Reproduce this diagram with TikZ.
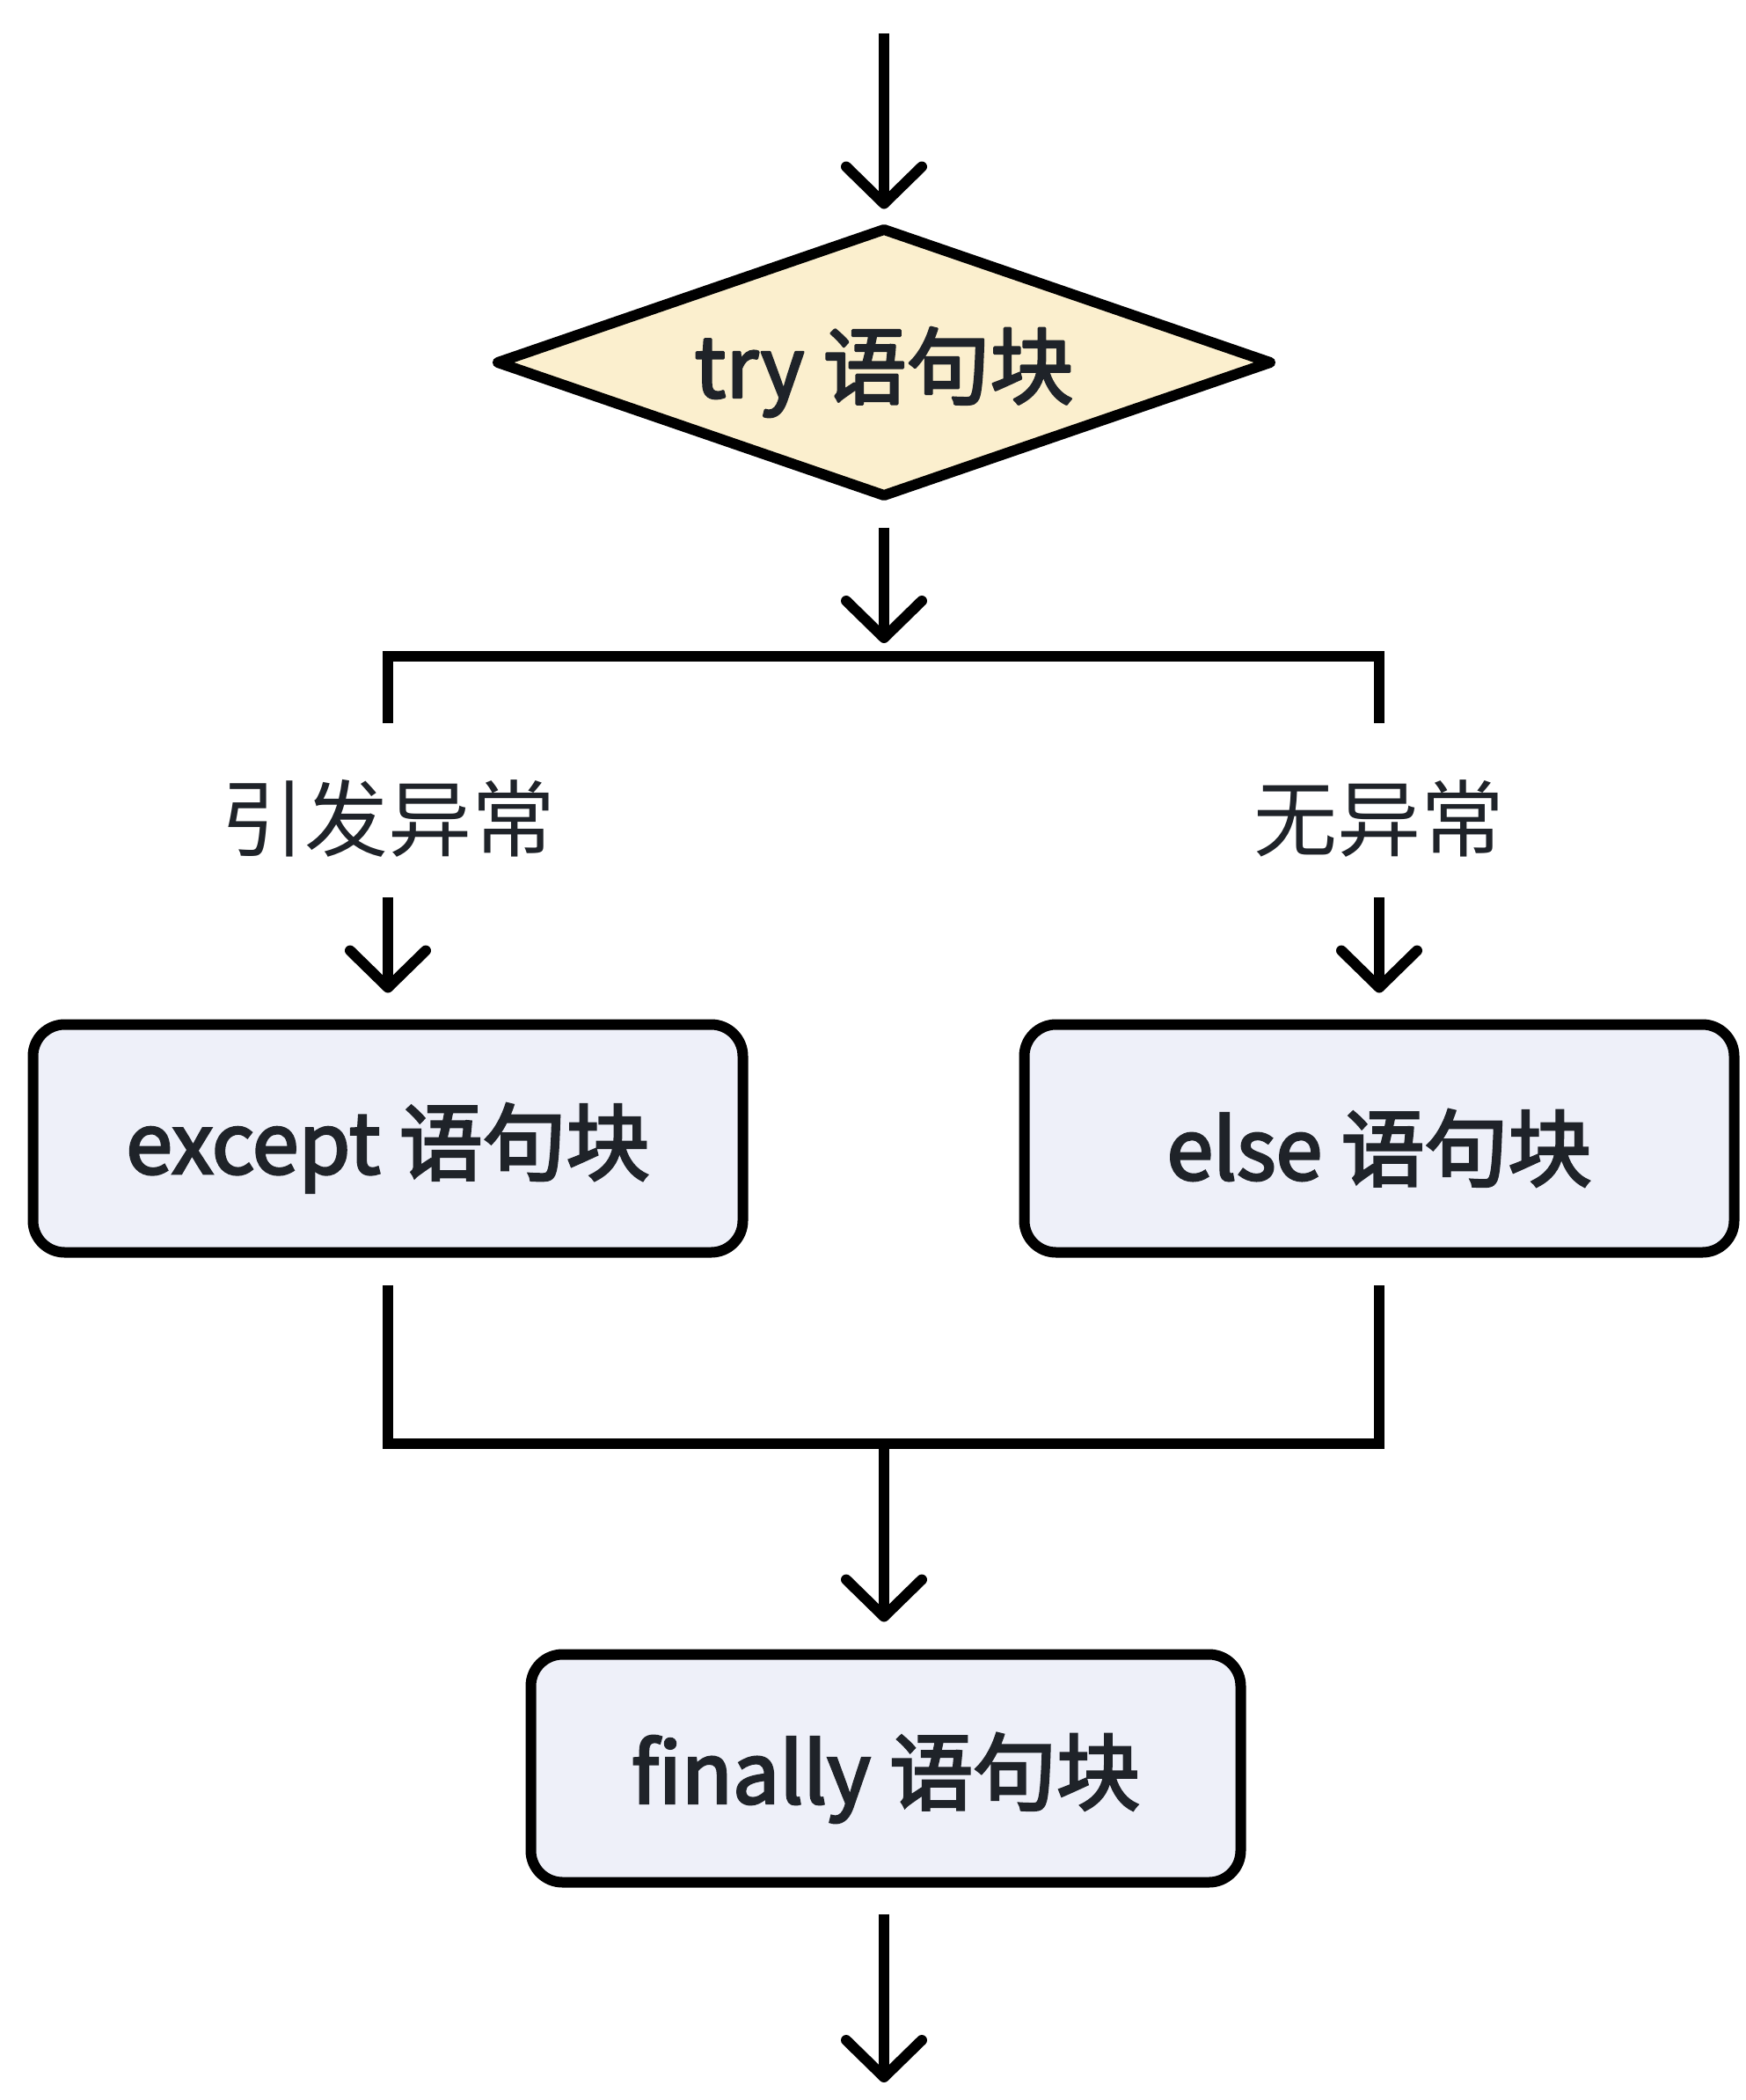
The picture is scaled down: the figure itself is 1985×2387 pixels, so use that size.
\documentclass[tikz,border=0pt]{standalone}
\usepackage{fontspec}
\setmainfont{Noto Sans CJK SC}
\newfontfamily\medfont[FakeBold=3]{Noto Sans CJK SC}
\usetikzlibrary{shapes.geometric,arrows.meta}
\definecolor{tryfill}{RGB}{251,239,206}
\definecolor{boxfill}{RGB}{238,240,249}
\definecolor{txt}{RGB}{31,35,41}
\newcommand{\lowtext}[1]{\raisebox{-11pt}[\height][\depth]{#1}}
\tikzset{
  ln/.style={line width=12pt, line cap=butt, line join=miter, black},
  arr/.style={ln, -{Straight Barb[length=42pt,width=86pt,line cap=round,line join=round]}},
  blockbox/.style={draw=black, line width=12pt, fill=boxfill, rounded corners=36pt,
    minimum width=807pt, minimum height=259pt, inner sep=0pt, text=txt,
    font=\fontsize{95}{100}\selectfont\medfont},
  decision/.style={draw=black, line width=12pt, fill=tryfill, diamond, aspect=2.876,
    minimum width=883pt, minimum height=307pt, inner sep=0pt, text=txt, line join=round,
    font=\fontsize{95}{100}\selectfont\medfont},
  lbl/.style={text=txt, inner sep=0pt, font=\fontsize{95}{100}\selectfont}
}
\begin{document}
\begin{tikzpicture}[x=1pt,y=-1pt]
\useasboundingbox (0,0) rectangle (1985,2387);
\fill[white] (0,0) rectangle (1985,2387);
\coordinate (start) at (1005,38);
\node[decision] (try) at (1005,412) {\lowtext{try 语句块}};
\coordinate (split) at (1005,746);
\coordinate (bl) at (441,822);
\coordinate (br) at (1568,822);
\node[lbl] (lex) at (441,930) {引发异常};
\node[lbl] (lno) at (1568,930) {无异常};
\coordinate (ea) at (441,1020);
\coordinate (na) at (1568,1020);
\node[blockbox] (except) at (441,1294) {\lowtext{except 语句块}};
\node[blockbox] (else) at (1568,1294) {\lowtext{else 语句块}};
\coordinate (merge) at (1005,1641);
\node[blockbox] (finally) at (1007,2010) {\lowtext{finally 语句块}};
\coordinate (end) at (1005,2367);

\draw[arr, shorten >=15pt] (start) -- (try.north);
\draw[arr, shorten <=28pt, shorten >=15pt] (try.south) -- (split);
\draw[ln] (bl) |- (split) -| (br);
\draw[arr, shorten >=30pt] (ea) -- (except.north);
\draw[arr, shorten >=30pt] (na) -- (else.north);
\draw[ln] ([yshift=-31pt]except.south) |- (merge) -| ([yshift=-31pt]else.south);
\draw[arr, shorten >=31pt] (merge) -- (finally.north -| merge);
\draw[arr, shorten <=30pt] (finally.south -| end) -- (end);
\end{tikzpicture}
\end{document}
